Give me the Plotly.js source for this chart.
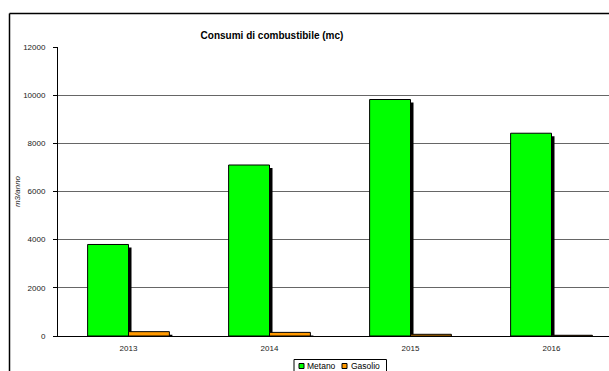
<!DOCTYPE html>
<html>
<head>
<meta charset="utf-8">
<script src="https://cdn.plot.ly/plotly-3.0.1.min.js"></script>
<style>html,body{margin:0;padding:0;background:#fff;overflow:hidden;}#chart{width:609px;height:371px;}</style>
</head>
<body>
<div id="chart"></div>
<script>
const categories = ['2013', '2014', '2015', '2016'];
const metano = [3800, 7100, 9820, 8420];
const gasolio = [180, 150, 70, 30];
const seriesNames = ['Metano', 'Gasolio'];
const seriesColors = ['#00FF00', '#FF9900'];
const yTicks = [0, 2000, 4000, 6000, 8000, 10000, 12000];
const yTickText = ['0', '2000', '4000', '6000', '8000', '10000', '12000'];

const W = 609, H = 371;
const mL = 58, mR = 0, mT = 47, mB = 35;
const plotW = W - mL - mR, plotH = H - mT - mB;
const pxPerCat = 141;
const xr = [-0.5, -0.5 + plotW / pxPerCat];
const yr = [0, 12000];
const pxPerY = plotH / (yr[1] - yr[0]);
const sh = 3;
const dx = sh / pxPerCat, dy = sh / pxPerY;

const idx = categories.map((_, i) => i);
const boundaries = idx.map(i => i - 0.5);
const series = [metano, gasolio];

const traces = [];
series.forEach((vals, s) => {
  traces.push({type: 'bar', x: idx, y: vals, xaxis: 'x', yaxis: 'y', hoverinfo: 'skip',
    marker: {color: '#000'}, showlegend: false, offsetgroup: 'g' + s});
});
series.forEach((vals, s) => {
  traces.push({type: 'bar', x: idx, y: vals, name: seriesNames[s], xaxis: 'x2', yaxis: 'y2', hoverinfo: 'skip',
    marker: {color: seriesColors[s], line: {color: '#000', width: 1}}, showlegend: false, offsetgroup: 'g' + s});
});

const px = v => (v - mL) / plotW;
const py = v => (H - mB - v) / plotH;

const fontFam = 'Liberation Sans, Arial, sans-serif';

const legTop = 359.5;
const legendItems = [
  {sq: 299, tx: 306},
  {sq: 342, tx: 350}
];
const shapes = [
  {type: 'line', xref: 'paper', yref: 'paper', x0: px(9.5), x1: px(9.5), y0: py(371), y1: py(13.5),
   line: {color: '#000', width: 1.5}, layer: 'below'},
  {type: 'line', xref: 'paper', yref: 'paper', x0: px(9.5), x1: 1, y0: py(13.5), y1: py(13.5),
   line: {color: '#000', width: 1.5}, layer: 'below'},
  {type: 'rect', xref: 'paper', yref: 'paper', x0: px(294), x1: px(386.5), y0: py(371.5), y1: py(legTop),
   line: {color: '#000', width: 1}, fillcolor: '#fff', layer: 'above'}
];
const annotations = [];
legendItems.forEach((it, s) => {
  shapes.push({type: 'rect', xref: 'paper', yref: 'paper', x0: px(it.sq), x1: px(it.sq + 5), y0: py(legTop + 9), y1: py(legTop + 4),
    line: {color: '#000', width: 1}, fillcolor: seriesColors[s], layer: 'above'});
  annotations.push({xref: 'paper', yref: 'paper', x: px(it.tx), y: py(legTop + 0.5), xanchor: 'left', yanchor: 'top',
    text: seriesNames[s], showarrow: false, borderpad: 0, font: {size: 8.5, color: '#000', family: fontFam}});
});

const layout = {
  width: W, height: H,
  margin: {l: mL, r: mR, t: mT, b: mB, pad: 0, autoexpand: false},
  paper_bgcolor: '#fff', plot_bgcolor: 'rgba(0,0,0,0)',
  font: {family: fontFam, size: 8, color: '#000'},
  barmode: 'group', bargap: 0.42, bargroupgap: 0,
  showlegend: false,
  title: {text: '<b>Consumi di combustibile (mc)</b>', font: {size: 10, family: fontFam, color: '#000'},
          x: 272 / W, xanchor: 'center', xref: 'container', y: 1 - 35 / H, yanchor: 'middle', yref: 'container'},
  xaxis: {range: [xr[0] - dx, xr[1] - dx], visible: false, fixedrange: true},
  yaxis: {range: [yr[0] + dy, yr[1] + dy], visible: false, fixedrange: true},
  xaxis2: {overlaying: 'x', range: xr, tickmode: 'array', tickvals: idx, ticktext: categories,
           ticks: '', showline: true, linecolor: '#000', linewidth: 1, showgrid: false, zeroline: false,
           tickfont: {size: 8, color: '#222'}, ticklabelstandoff: 4, fixedrange: true},
  xaxis3: {overlaying: 'x', range: xr, tickmode: 'array', tickvals: boundaries, showticklabels: false,
           ticks: 'outside', ticklen: 4, tickcolor: '#000', showline: false, showgrid: false, zeroline: false,
           fixedrange: true},
  yaxis2: {overlaying: 'y', range: yr, tickmode: 'array', tickvals: yTicks, ticktext: yTickText,
           ticks: 'outside', ticklen: 4, tickcolor: '#000', showline: true, linecolor: '#000', linewidth: 1,
           showgrid: true, gridcolor: '#666', gridwidth: 1, zeroline: false,
           tickfont: {size: 8, color: '#222'}, ticklabelstandoff: 6,
           title: {text: '<i>m3/anno</i>', font: {size: 8, color: '#222'}, standoff: 1}, fixedrange: true},
  shapes: shapes,
  annotations: annotations
};

Plotly.newPlot('chart', traces, layout, {displayModeBar: false, staticPlot: true});
</script>
</body>
</html>
